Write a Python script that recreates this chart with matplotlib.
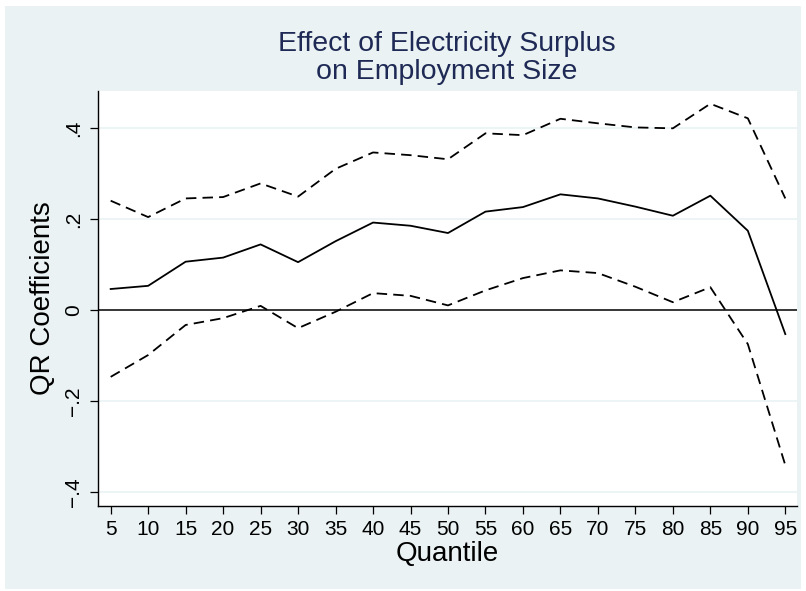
import matplotlib
matplotlib.use("Agg")
import matplotlib.pyplot as plt
from matplotlib.patches import Rectangle

plt.rcParams['font.family'] = ['Liberation Sans', 'DejaVu Sans']

# Quantile regression estimates with 95% confidence bounds
quantiles = [5, 10, 15, 20, 25, 30, 35, 40, 45, 50,
             55, 60, 65, 70, 75, 80, 85, 90, 95]
coef = [0.046, 0.053, 0.106, 0.115, 0.144, 0.105, 0.151, 0.192, 0.185, 0.169,
        0.216, 0.226, 0.254, 0.245, 0.227, 0.207, 0.251, 0.174, -0.053]
upper = [0.240, 0.204, 0.245, 0.248, 0.278, 0.249, 0.310, 0.346, 0.340, 0.331,
         0.388, 0.384, 0.420, 0.410, 0.401, 0.399, 0.453, 0.421, 0.245]
lower = [-0.147, -0.099, -0.033, -0.018, 0.009, -0.040, -0.004, 0.037, 0.031, 0.010,
         0.043, 0.070, 0.087, 0.081, 0.051, 0.017, 0.050, -0.075, -0.341]
yticks = [-0.4, -0.2, 0.0, 0.2, 0.4]
ytick_labels = ['\u2212.4', '\u2212.2', '0', '.2', '.4']

bg = '#EAF2F3'
W, H = 806, 591
fig = plt.figure(figsize=(W / 100, H / 100), dpi=100, facecolor='white')

# Light panel behind the plot region
fig.patches.append(Rectangle((5 / W, 1 - 589 / H), (801 - 5) / W, (589 - 6) / H,
                             transform=fig.transFigure, facecolor=bg,
                             edgecolor='none', zorder=-10))

ax = fig.add_axes([97.7 / W, 1 - 505.7 / H, (797 - 97.7) / W, (505.7 - 91) / H])
ax.set_zorder(1)
ax.set_facecolor('white')

for yv in yticks:
    if yv != 0:
        ax.axhline(yv, color=bg, lw=1.2, zorder=1)
ax.axhline(0, color='black', lw=1.1, zorder=2)

dash = (0, (5.8, 3.4))
ax.plot(quantiles, coef, color='black', lw=1.3, zorder=3)
ax.plot(quantiles, upper, color='black', lw=1.3, linestyle=dash, zorder=3)
ax.plot(quantiles, lower, color='black', lw=1.3, linestyle=dash, zorder=3)

ax.set_xlim(3.27, 96.56)
ax.set_ylim(-0.430, 0.481)
ax.set_xticks(quantiles)
ax.set_xticklabels([str(q) for q in quantiles], fontsize=15)
ax.set_yticks(yticks)
ax.set_yticklabels(ytick_labels, fontsize=15, rotation=90, va='center')
ax.tick_params(axis='both', length=6, width=0.9, color='black', pad=4.5)

for side in ('top', 'right'):
    ax.spines[side].set_visible(False)
for side in ('left', 'bottom'):
    ax.spines[side].set_linewidth(1.0)
    ax.spines[side].set_color('black')

ax.set_xlabel('Quantile', fontsize=20, labelpad=1)
ax.set_ylabel('QR Coefficients', fontsize=20, labelpad=6)

fig.text(447 / W, 1 - 58 / H, 'Effect of Electricity Surplus\non Employment Size',
         ha='center', va='center', fontsize=20.5, color='#1E2A55', linespacing=1.08)

fig.savefig('out.png', dpi=100, facecolor='white')
